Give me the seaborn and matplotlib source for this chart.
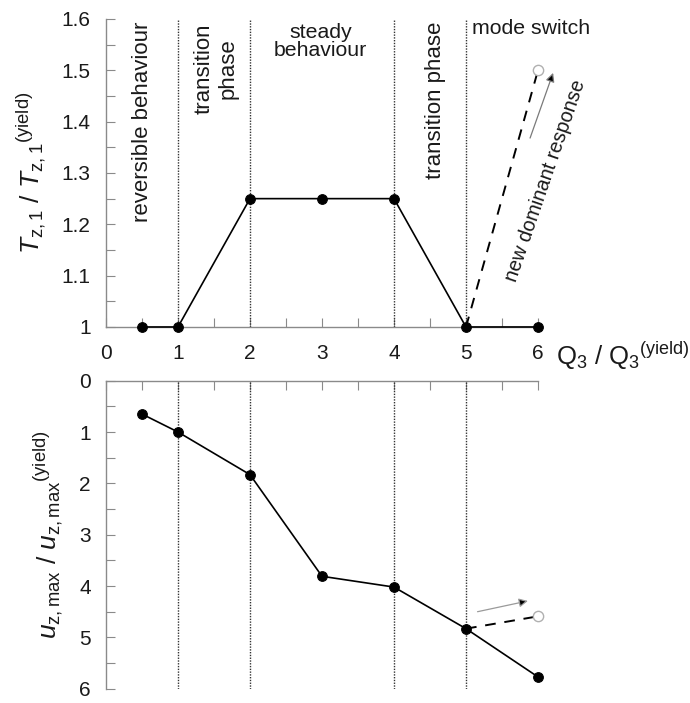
import numpy as np
import matplotlib
matplotlib.use("Agg")
import matplotlib.pyplot as plt
import seaborn as sns

# ---- data ----
q_ratio = [0.5, 1, 2, 3, 4, 5, 6]
t_ratio = [1.0, 1.0, 1.25, 1.25, 1.25, 1.0, 1.0]
u_ratio = [0.65, 1.0, 1.83, 3.81, 4.02, 4.83, 5.77]
switch_q = [5, 6]
switch_t = [1.0, 1.5]
switch_u = [4.83, 4.59]
phase_bounds = [1, 2, 4, 5]
x_ticks = [0, 1, 2, 3, 4, 5, 6]
t_ticks = [1.0, 1.1, 1.2, 1.3, 1.4, 1.5, 1.6]
t_tick_labels = ["1", "1.1", "1.2", "1.3", "1.4", "1.5", "1.6"]
u_ticks = [0, 1, 2, 3, 4, 5, 6]

sns.set_style("white")
plt.rcParams["font.family"] = ["Liberation Sans", "DejaVu Sans"]
plt.rcParams["mathtext.fontset"] = "custom"
plt.rcParams["mathtext.rm"] = "Liberation Sans"
plt.rcParams["mathtext.it"] = "Liberation Sans:italic"
plt.rcParams["mathtext.bf"] = "Liberation Sans:bold"

GRAY = "#8a8a8a"
TXT = "#1a1a1a"

fig = plt.figure(figsize=(6.9, 7.03), dpi=100)
ax1 = fig.add_axes([0.1536, 0.5349, 0.6261, 0.4381])
ax2 = fig.add_axes([0.1536, 0.0203, 0.6261, 0.4382])

# ---------- top panel ----------
for xb in phase_bounds:
    ax1.axvline(xb, color="#333333", lw=1.0, ls=(0, (1, 1)), zorder=1)
    ax2.axvline(xb, color="#333333", lw=1.0, ls=(0, (1, 1)), zorder=1)

sns.lineplot(x=q_ratio, y=t_ratio, ax=ax1, color="black", lw=1.2,
             marker="o", markersize=7, markeredgecolor="black",
             estimator=None, sort=False, clip_on=False, zorder=5)
sns.lineplot(x=switch_q, y=switch_t, ax=ax1, color="black", lw=1.4,
             ls=(0, (5.5, 4.5)), estimator=None, sort=False, clip_on=False, zorder=4)
sns.scatterplot(x=switch_q[1:], y=switch_t[1:], ax=ax1, s=55,
                facecolor="white", edgecolor="#b0b0b0", linewidth=1.0,
                clip_on=False, zorder=6)

ax1.set_xlim(0, 6)
ax1.set_ylim(1.0, 1.6)
ax1.set_xticks(np.arange(0, 6.01, 0.5))
ax1.set_xticklabels([str(int(v)) if v == int(v) else "" for v in np.arange(0, 6.01, 0.5)])
ax1.set_yticks(np.arange(1.0, 1.601, 0.05))
ax1.set_yticklabels([t_tick_labels[t_ticks.index(round(v, 1))] if abs(v * 10 - round(v * 10)) < 1e-6 else ""
                     for v in np.arange(1.0, 1.601, 0.05)])
for s in ["top", "right"]:
    ax1.spines[s].set_visible(False)
for s in ["left", "bottom"]:
    ax1.spines[s].set_color(GRAY)
    ax1.spines[s].set_linewidth(1.0)
ax1.tick_params(axis="both", direction="in", color=GRAY, length=6.5, width=0.8,
                labelsize=15, labelcolor=TXT)
ax1.tick_params(axis="x", pad=12, bottom=True)
ax1.tick_params(axis="y", pad=11, left=True)

ax1.set_ylabel(r"$T_{\mathrm{z,1}}\ /\ T_{\mathrm{z,1}}{}^{\mathrm{(yield)}}$", fontsize=19, color=TXT)
ax1.yaxis.set_label_coords(-0.135, 0.5)

fs = 15.3
fsv = 16.0
ax1.text(0.51, 1.594, "reversible behaviour", rotation=90, ha="center", va="top", fontsize=fsv, color=TXT)
ax1.text(1.53, 1.592, "transition\nphase", rotation=90, ha="center", va="top", fontsize=fsv,
         multialignment="center", linespacing=1.15, color=TXT)
ax1.text(2.98, 1.592, "steady\nbehaviour", ha="center", va="top", fontsize=fs,
         multialignment="center", linespacing=0.95, color=TXT)
ax1.text(4.58, 1.594, "transition phase", rotation=90, ha="center", va="top", fontsize=fsv, color=TXT)
ax1.text(5.08, 1.600, "mode switch", ha="left", va="top", fontsize=fs, color=TXT)
ax1.text(6.10, 1.285, "new dominant response", rotation=71, ha="center", va="center",
         fontsize=14.3, color=TXT, clip_on=False)
ax1.annotate("", xy=(6.21, 1.495), xytext=(5.89, 1.368), annotation_clip=False,
             arrowprops=dict(arrowstyle="-|>", ec="#7a7a7a", fc="black", lw=0.9,
                             mutation_scale=13, shrinkA=0, shrinkB=0))

fig.text(0.806, 0.494, r"$\mathrm{Q}_{3}\ /\ \mathrm{Q}_{3}{}^{\mathrm{(yield)}}$",
         ha="left", va="center", fontsize=18.5, color=TXT)

# ---------- bottom panel ----------
sns.lineplot(x=q_ratio, y=u_ratio, ax=ax2, color="black", lw=1.2,
             marker="o", markersize=7, markeredgecolor="black",
             estimator=None, sort=False, clip_on=False, zorder=5)
sns.lineplot(x=switch_q, y=switch_u, ax=ax2, color="black", lw=1.4,
             ls=(0, (5.5, 4.5)), estimator=None, sort=False, clip_on=False, zorder=4)
sns.scatterplot(x=switch_q[1:], y=switch_u[1:], ax=ax2, s=55,
                facecolor="white", edgecolor="#b0b0b0", linewidth=1.0,
                clip_on=False, zorder=6)
ax2.annotate("", xy=(5.86, 4.29), xytext=(5.16, 4.50), annotation_clip=False,
             arrowprops=dict(arrowstyle="-|>", ec="#9a9a9a", fc="black", lw=0.9,
                             mutation_scale=13, shrinkA=0, shrinkB=0))

ax2.set_xlim(0, 6)
ax2.set_ylim(6, 0)
ax2.set_xticks(np.arange(0, 6.01, 0.5))
ax2.set_yticks(np.arange(0, 6.01, 0.5))
ax2.set_yticklabels([str(int(v)) if v == int(v) else "" for v in np.arange(0, 6.01, 0.5)])
ax2.xaxis.set_ticks_position("top")
ax2.tick_params(axis="x", labeltop=False, labelbottom=False, top=True, bottom=False)
for s in ["bottom", "right"]:
    ax2.spines[s].set_visible(False)
for s in ["left", "top"]:
    ax2.spines[s].set_color(GRAY)
    ax2.spines[s].set_linewidth(1.0)
ax2.tick_params(axis="both", direction="in", color=GRAY, length=6.5, width=0.8,
                labelsize=15, labelcolor=TXT)
ax2.tick_params(axis="y", pad=11, left=True)

ax2.set_ylabel(r"$u_{\mathrm{z,max}}\ /\ u_{\mathrm{z,max}}{}^{\mathrm{(yield)}}$", fontsize=19, color=TXT)
ax2.yaxis.set_label_coords(-0.095, 0.5)

fig.savefig("out.png", dpi=100)
